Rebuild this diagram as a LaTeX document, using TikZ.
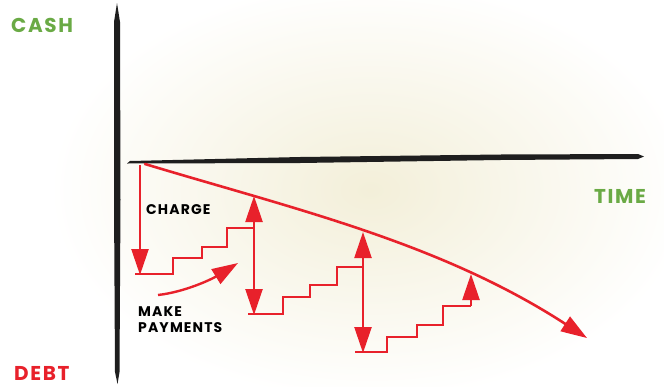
\documentclass[tikz,border=0pt]{standalone}
\usepackage{fontspec}
\setmainfont{Poppins}
\newfontfamily\lblfont[LetterSpace=8]{Poppins}
\usetikzlibrary{arrows.meta}
\definecolor{cgreen}{HTML}{6AAA45}
\definecolor{cred}{HTML}{E8212B}
\definecolor{wash}{HTML}{F3EFD9}
\definecolor{ink}{HTML}{1E1E1E}
\begin{document}
\begin{tikzpicture}[x=1pt,y=-1pt,
  biglbl/.style={font=\lblfont\bfseries\fontsize{20}{20}\selectfont, inner sep=0pt, anchor=west},
  smalllbl/.style={font=\lblfont\bfseries\fontsize{14}{16}\selectfont, inner sep=0pt, anchor=west, align=left},
  debtline/.style={draw=cred, line width=2.6pt, line cap=round},
  vline/.style={draw=cred, line width=2.4pt},
  stairline/.style={draw=cred, line width=2pt, line join=miter},
  tipend/.style={-{Triangle[length=26pt,width=17pt]}},
  tipboth/.style={{Triangle[length=26pt,width=17pt]}-{Triangle[length=26pt,width=17pt]}}
]
\useasboundingbox (0,0) rectangle (664,386);
% background wash
\fill[white] (0,0) rectangle (664,386);
\shade[inner color=wash, outer color=white] (370,190) ellipse (320 and 210);

% axes (brush strokes)
\fill[ink] (117,3) -- (120,22) -- (120.5,200) -- (119.5,372) -- (117.5,384) -- (115,372) -- (114,200) -- (114,22) -- cycle;
\fill[ink] (127,163.5) -- (300,163) -- (500,160) -- (638,159) -- (644,156.5) -- (638,154) -- (500,154.5) -- (300,157) -- (130,161) -- cycle;

% labels
\node[biglbl, text=cgreen] (cash) at (11,25) {CASH};
\node[biglbl, text=cred] (debt) at (14,373) {DEBT};
\node[biglbl, text=cgreen] (time) at (594,196) {TIME};
\node[smalllbl] (charge) at (146,210) {CHARGE};
\node[smalllbl] (make) at (138,320) {MAKE\\PAYMENTS};

% coordinates
\coordinate (d0) at (145,164);
\coordinate (d1) at (254,196);
\coordinate (d2) at (363,232);
\coordinate (d3) at (471,274);
\coordinate (d4) at (587,338);

\coordinate (c0) at (140,165);
\coordinate (c1) at (140,275);
\coordinate (b1) at (254,315);
\coordinate (b2) at (363,353);
\coordinate (u3) at (471,306);

\coordinate (m0) at (158,295);
\coordinate (m1) at (238,263);

% debt line
\draw[debtline, tipend] (d0) .. controls (294,209) and (440,242.5) .. (d4);

% charge
\draw[vline, tipend] (c0) -- (c1);
% stairs 1
\draw[stairline] (135,274) -- (173,274) -- (173,258) -- (202,258) -- (202,247) -- (227,247) -- (227,228) -- (254,228);
\draw[vline, tipboth] (d1) -- (b1);
% stairs 2
\draw[stairline] (248,314) -- (283,314) -- (283,297) -- (310,297) -- (310,285) -- (337,285) -- (337,267) -- (363,267);
\draw[vline, tipboth] (d2) -- (b2);
% stairs 3
\draw[stairline] (355,352) -- (387,352) -- (387,337) -- (417,337) -- (417,325) -- (443,325) -- (443,306) -- (u3);
\draw[vline, tipend] (u3) -- (d3);

% make payments arrow
\draw[vline, tipend] (m0) .. controls (185,292) and (212,279) .. (m1);
\end{tikzpicture}
\end{document}
